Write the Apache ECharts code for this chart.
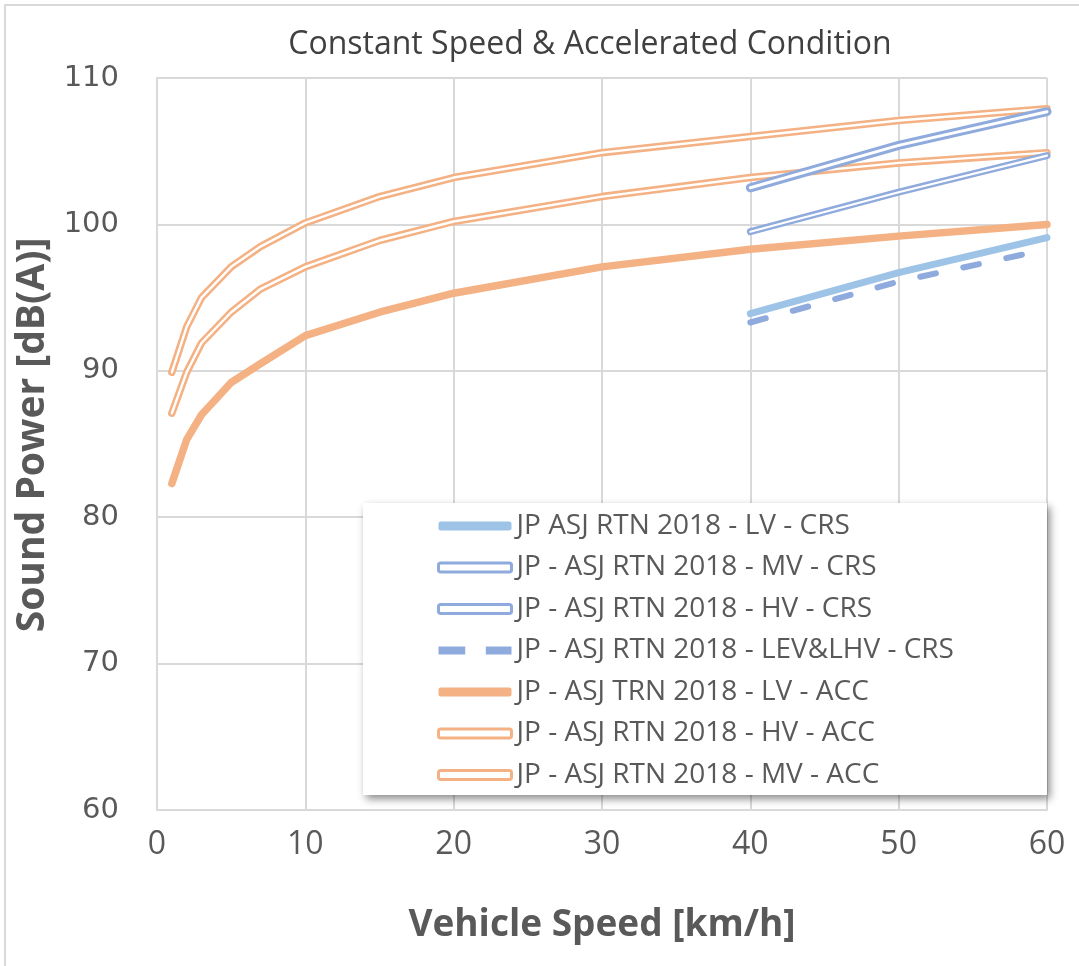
<!DOCTYPE html>
<html>
<head>
<meta charset="utf-8">
<script src="https://cdn.jsdelivr.net/npm/echarts@6/dist/echarts.min.js"></script>
<style>
  html, body { margin: 0; padding: 0; background: #fff; }
  #chart { width: 1079px; height: 966px; }
</style>
</head>
<body>
<div id="chart"></div>
<script>
// speeds (km/h)
const accSpeeds = [1, 2, 3, 5, 7, 10, 15, 20, 30, 40, 50, 60];
const crsSpeeds = [40, 50, 60];

// sound power dB(A), accelerated condition
const lvAcc = [82.3, 85.3, 87.0, 89.2, 90.5, 92.4, 94.0, 95.3, 97.1, 98.3, 99.2, 100.0];
const hvAcc = [89.9, 93.0, 95.0, 97.1, 98.5, 100.1, 101.9, 103.2, 104.9, 106.0, 107.1, 107.9];
const mvAcc = [87.1, 89.9, 91.9, 94.0, 95.6, 97.1, 98.9, 100.2, 101.9, 103.2, 104.2, 104.9];

// sound power dB(A), constant speed
const lvCrs = [93.9, 96.7, 99.1];
const mvCrs = [99.5, 102.2, 104.7];
const hvCrs = [102.5, 105.4, 107.7];
const levCrs = [93.3, 96.1, 98.3];

const xTicks = [0, 10, 20, 30, 40, 50, 60];
const yTicks = [60, 70, 80, 90, 100, 110];

const ORANGE = '#F4B183';
const LIGHT_BLUE = '#9DC3E6';
const BLUE = '#8FAADC';
const TEXT = '#595959';
const FONT = 'Open Sans';

const pairs = (xs, ys) => xs.map((x, i) => [x, ys[i]]);

function solid(name, xs, ys, color, width, extra) {
  return Object.assign({
    name, type: 'line', data: pairs(xs, ys), symbol: 'none',
    lineStyle: { color, width, cap: 'round', join: 'round' },
    itemStyle: { color }
  }, extra || {});
}

// double (compound) line = coloured stroke + thin white stroke on top
function double(name, xs, ys, color, outer, inner) {
  return [
    solid(name, xs, ys, color, outer),
    solid(name + ' (inner)', xs, ys, '#ffffff', inner, { silent: true, z: 3 })
  ];
}

const names = {
  lvCrs: 'JP ASJ RTN 2018 - LV - CRS',
  mvCrs: 'JP - ASJ RTN 2018 - MV - CRS',
  hvCrs: 'JP - ASJ RTN 2018 - HV - CRS',
  levCrs: 'JP - ASJ RTN 2018 - LEV&LHV - CRS',
  lvAcc: 'JP - ASJ TRN 2018 - LV - ACC',
  hvAcc: 'JP - ASJ RTN 2018 - HV - ACC',
  mvAcc: 'JP - ASJ RTN 2018 - MV - ACC'
};

const series = [].concat(
  solid(names.lvAcc, accSpeeds, lvAcc, ORANGE, 7.5),
  double(names.hvAcc, accSpeeds, hvAcc, ORANGE, 7.5, 2.4),
  double(names.mvAcc, accSpeeds, mvAcc, ORANGE, 7.5, 2.4),
  solid(names.lvCrs, crsSpeeds, lvCrs, LIGHT_BLUE, 7),
  solid(names.levCrs, crsSpeeds, levCrs, BLUE, 6, {
    lineStyle: { color: BLUE, width: 6, type: [16, 28], cap: 'round' }
  }),
  double(names.mvCrs, crsSpeeds, mvCrs, BLUE, 7, 2.2),
  double(names.hvCrs, crsSpeeds, hvCrs, BLUE, 9, 3)
);

const dblIcon = color => ({ icon: 'roundRect', itemStyle: { color: '#fff', borderColor: color, borderWidth: 3 } });
const barIcon = color => ({ icon: 'roundRect', itemStyle: { color, borderWidth: 0 } });

const legendData = [
  Object.assign({ name: names.lvCrs }, barIcon(LIGHT_BLUE)),
  Object.assign({ name: names.mvCrs }, dblIcon(BLUE)),
  Object.assign({ name: names.hvCrs }, dblIcon(BLUE)),
  { name: names.levCrs, icon: 'path://M0,0 L26,0 L26,8 L0,8 Z M46,0 L71,0 L71,8 L46,8 Z',
    itemStyle: { color: BLUE, borderWidth: 0 } },
  Object.assign({ name: names.lvAcc }, barIcon(ORANGE)),
  Object.assign({ name: names.hvAcc }, dblIcon(ORANGE)),
  Object.assign({ name: names.mvAcc }, dblIcon(ORANGE))
];

const chart = echarts.init(document.getElementById('chart'), null, { renderer: 'canvas' });

chart.setOption({
  animation: false,
  backgroundColor: '#fff',
  title: {
    text: 'Constant Speed & Accelerated Condition',
    left: 585, top: 24, textAlign: 'center',
    textStyle: { color: '#404040', fontSize: 32, fontWeight: 'normal', fontFamily: FONT }
  },
  grid: { left: 157, right: 32, top: 78, bottom: 156 },
  xAxis: {
    type: 'value', min: xTicks[0], max: xTicks[xTicks.length - 1], interval: 10,
    name: 'Vehicle Speed [km/h]', nameLocation: 'middle', nameGap: 97,
    nameTextStyle: { color: TEXT, fontSize: 37, fontWeight: 'bold', fontFamily: FONT },
    axisLine: { lineStyle: { color: '#d9d9d9', width: 2 } },
    axisTick: { show: false },
    axisLabel: { color: TEXT, fontSize: 32, margin: 19, fontFamily: FONT },
    splitLine: { lineStyle: { color: '#d9d9d9', width: 2 } }
  },
  yAxis: {
    type: 'value', min: yTicks[0], max: yTicks[yTicks.length - 1], interval: 10,
    name: 'Sound Power [dB(A)]', nameLocation: 'middle', nameGap: 84, nameRotate: 90,
    nameTextStyle: { color: TEXT, fontSize: 39, fontWeight: 'bold', fontFamily: FONT, padding: [0, 0, 0, 18] },
    axisLine: { show: true, lineStyle: { color: '#d9d9d9', width: 2 } },
    axisTick: { show: false },
    axisLabel: { color: TEXT, fontSize: 29, margin: 38, fontFamily: 'DejaVu Sans' },
    splitLine: { lineStyle: { color: '#d9d9d9', width: 2 } }
  },
  graphic: [
    { type: 'rect', z: -1, silent: true, shape: { x: 5, y: 5, width: 1100, height: 1000 },
      style: { fill: 'none', stroke: '#d9d9d9', lineWidth: 2 } },
    { type: 'rect', z: 3, silent: true, shape: { x: 363, y: 503, width: 684, height: 292 },
      style: { fill: '#fff', shadowBlur: 8, shadowColor: 'rgba(0,0,0,0.45)', shadowOffsetX: 3, shadowOffsetY: 4 } }
  ],
  legend: {
    orient: 'vertical', left: 432, top: 506,
    itemWidth: 73, itemHeight: 9, itemGap: 11.5,
    textStyle: { color: TEXT, fontSize: 28, lineHeight: 30, fontFamily: FONT },
    data: legendData
  },
  series
});
</script>
</body>
</html>
